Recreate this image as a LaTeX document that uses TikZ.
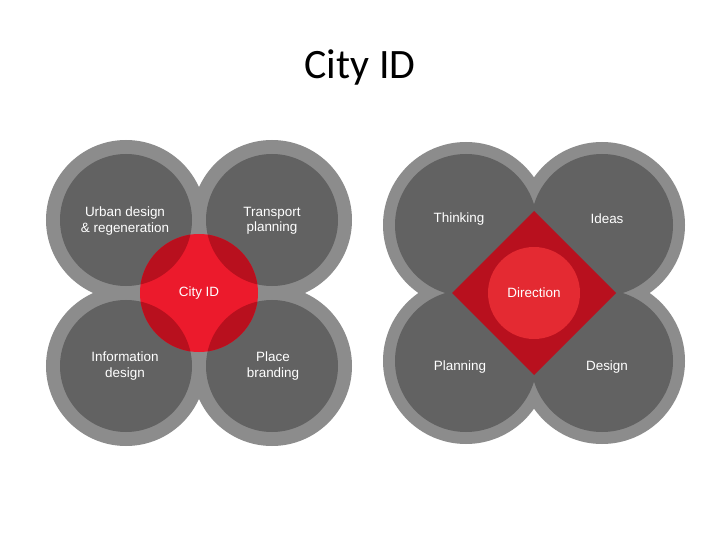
\documentclass[tikz,border=0pt]{standalone}
\usepackage{fontspec}
\setmainfont{Liberation Sans}
\newfontfamily\titlefont{Carlito}
\usetikzlibrary{positioning}
\definecolor{ringgrey}{RGB}{140,140,140}
\definecolor{discgrey}{RGB}{98,98,98}
\definecolor{idred}{RGB}{236,26,44}
\definecolor{deepred}{RGB}{184,16,30}
\definecolor{dirred}{RGB}{228,42,50}
\tikzstyle{petaltext} = [text=white, align=center, inner sep=0pt, font=\fontsize{13.5}{15.5}\selectfont]

\begin{document}
\begin{tikzpicture}[x=1bp, y=-1bp]
    \useasboundingbox[fill=white] (0,0) rectangle (720,540);

    % Title
    \node[anchor=base] (title) at (360,79) {\titlefont\fontsize{42}{48}\selectfont City ID};

    % Left rosette
    \begin{scope}[shift={(199,293)}]
        \foreach \dx/\dy in {-73/-73, 73/-73, -73/73, 73/73}
            \fill[ringgrey] (\dx,\dy) circle (80bp);
        \foreach \dx/\dy in {-73/-73, 73/-73, -73/73, 73/73}
            \fill[discgrey] (\dx,\dy) circle (66bp);
        \fill[idred] (0,0) circle (59bp);
        \begin{scope}
            \clip (0,0) circle (59bp);
            \foreach \dx/\dy in {-73/-73, 73/-73, -73/73, 73/73}
                \fill[deepred] (\dx,\dy) circle (66bp);
        \end{scope}

        % Labels
        \node[petaltext] (urban) at (-74,-72) {Urban design\\\& regeneration};
        \node[petaltext] (transport) at (73,-72) {Transport\\planning};
        \node[petaltext] (cityid) at (0,0) {City ID};
        \node[petaltext] (information) at (-74,73) {Information\\design};
        \node[petaltext] (place) at (74,73) {Place\\branding};
    \end{scope}

    % Right rosette
    \begin{scope}[shift={(534,293)}]
        \foreach \dx/\dy in {-68/-68, 68/-68, -68/68, 68/68}
            \fill[ringgrey] (\dx,\dy) circle (83bp);
        \foreach \dx/\dy in {-68/-68, 68/-68, -68/68, 68/68}
            \fill[discgrey] (\dx,\dy) circle (71bp);
        \fill[deepred] (0,-82) -- (82,0) -- (0,82) -- (-82,0) -- cycle;
        \fill[dirred] (0,0) circle (46bp);

        % Labels
        \node[petaltext] (thinking) at (-75,-74) {Thinking};
        \node[petaltext] (ideas) at (73,-74) {Ideas};
        \node[petaltext] (direction) at (0,0) {Direction};
        \node[petaltext] (planning) at (-74,74) {Planning};
        \node[petaltext] (design) at (73,74) {Design};
    \end{scope}
\end{tikzpicture}
\end{document}
